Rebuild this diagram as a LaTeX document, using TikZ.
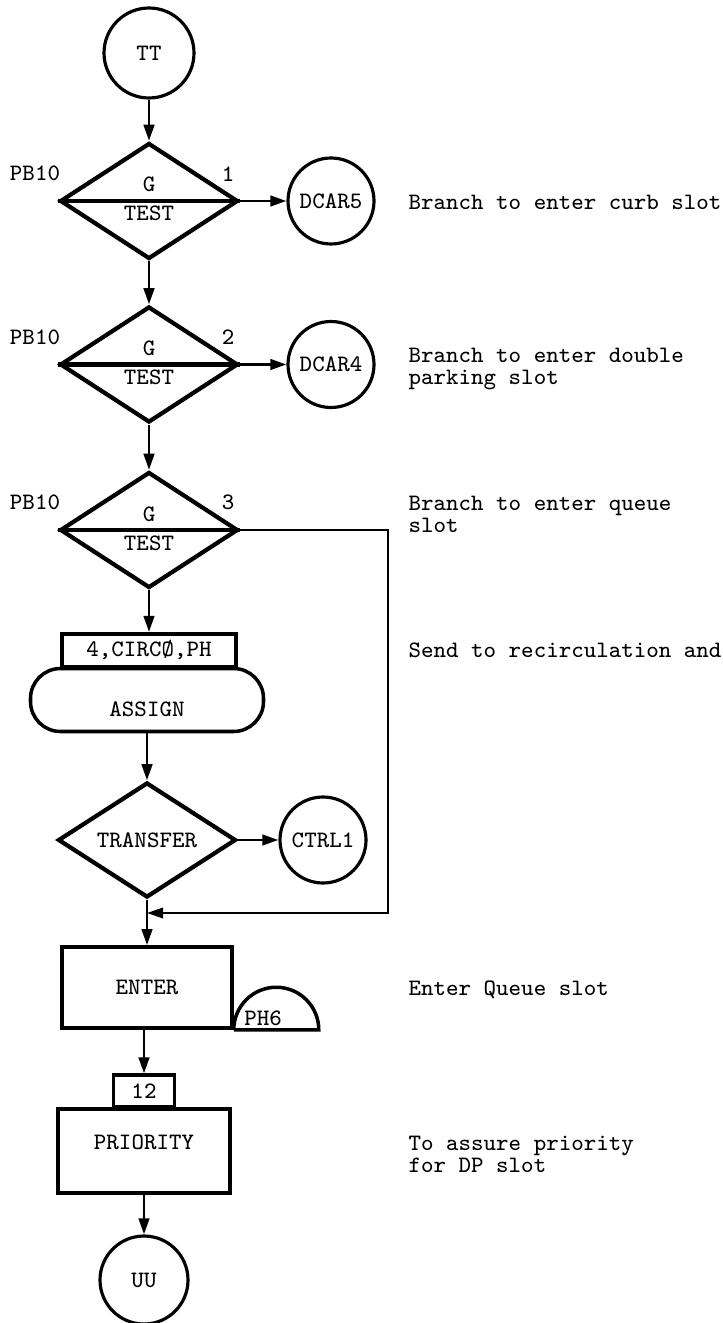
\documentclass[tikz,border=0pt]{standalone}
\usepackage{fontspec}
\usetikzlibrary{arrows.meta, shapes.geometric}

\begin{document}
\begin{tikzpicture}[
  font=\ttfamily\fontsize{6.7}{6.3}\selectfont,
  point/.style={draw, circle, line width=0.9pt, minimum size=0.86cm, inner sep=0pt},
  gate/.style={draw, diamond, line width=1.2pt, minimum width=1.78cm,
               minimum height=1.16cm, inner sep=0pt},
  block/.style={draw, rectangle, line width=1pt, inner sep=0pt},
  note/.style={anchor=west, align=left, inner sep=0pt},
  arrow/.style={-{Triangle[length=4.6pt, width=3pt]}, line width=0.8pt},
]
\useasboundingbox (0,0) rectangle (7.23,-13.23);

% main column
\node[point, minimum size=0.90cm] (tt) at (1.49, -0.53) {TT};
\node[gate] (gate1) at (1.49, -2.01) {};
\node[gate] (gate2) at (1.49, -3.645) {};
\node[gate] (gate3) at (1.49, -5.30) {};
\node[block, rounded corners=0.3cm, minimum width=2.33cm, minimum height=0.63cm,
      text height=0.34cm] (assign) at (1.47, -7.00) {ASSIGN};
\node[block, anchor=south, minimum width=1.74cm, minimum height=0.33cm]
      (param) at (1.49, -6.685) {4,CIRCØ,PH};
\node[gate, minimum height=1.14cm] (transfer) at (1.47, -8.40) {TRANSFER};
\node[block, minimum width=1.70cm, minimum height=0.81cm] (enter) at (1.47, -9.875) {ENTER};
\node[block, minimum width=1.72cm, minimum height=0.84cm, text depth=0.18cm]
      (priority) at (1.44, -11.51) {PRIORITY};
\node[block, anchor=south, minimum width=0.61cm, minimum height=0.32cm]
      (pri) at (1.44, -11.09) {12};
\node[point, minimum size=0.88cm] (uu) at (1.44, -12.80) {UU};

% gate texts
\node (g1) at (1.49, -1.84) {G};
\node (test1) at (1.49, -2.13) {TEST};
\node (g2) at (1.49, -3.48) {G};
\node (test2) at (1.49, -3.77) {TEST};
\node (g3) at (1.49, -5.14) {G};
\node (test3) at (1.49, -5.43) {TEST};
\node (pb1) at (0.35, -1.73) {PB10};
\node (pb2) at (0.35, -3.37) {PB10};
\node (pb3) at (0.35, -5.02) {PB10};
\node (n1) at (2.28, -1.74) {1};
\node (n2) at (2.28, -3.37) {2};
\node (n3) at (2.28, -5.02) {3};

% exits
\node[point] (dcar5) at (3.31, -2.01) {DCAR5};
\node[point] (dcar4) at (3.31, -3.645) {DCAR4};
\node[point] (ctrl1) at (3.23, -8.40) {CTRL1};
\node (ph6) at (2.63, -10.18) {PH6};

% comments
\node[note] (c1) at (4.08, -2.02) {Branch to enter curb slot};
\node[note] (c2) at (4.08, -3.69) {Branch to enter double\\parking slot};
\node[note] (c3) at (4.08, -5.14) {Branch to enter queue\\slot};
\node[note] (c4) at (4.08, -6.50) {Send to recirculation and};
\node[note] (c5) at (4.08, -9.90) {Enter Queue slot};
\node[note] (c6) at (4.08, -11.54) {To assure priority\\for DP slot};

\coordinate (rail) at (3.88, -9.13);
\coordinate (join) at (1.47, -9.13);

\foreach \g in {gate1, gate2, gate3}
  \draw[line width=1.2pt] (\g.west) -- (\g.east);
\draw[line width=1pt] (enter.south east) -- ++(0.85,0) arc (0:180:0.425);

\draw[arrow] (tt) -- (gate1);
\draw[arrow] (gate1) -- (dcar5);
\draw[arrow] (gate1) -- (gate2);
\draw[arrow] (gate2) -- (dcar4);
\draw[arrow] (gate2) -- (gate3);
\draw[arrow] (gate3.south) -- (param.north);
\draw[arrow] (assign.south) -- (transfer.north);
\draw[arrow] (transfer) -- (ctrl1);
\draw[arrow] (transfer.south) -- (enter.north);
\draw[arrow, line width=0.6pt] (gate3.east) -| (rail) -- (join);
\draw[arrow] (enter.south -| priority) -- (pri.north);
\draw[arrow] (priority.south) -- (uu.north);
\end{tikzpicture}
\end{document}
